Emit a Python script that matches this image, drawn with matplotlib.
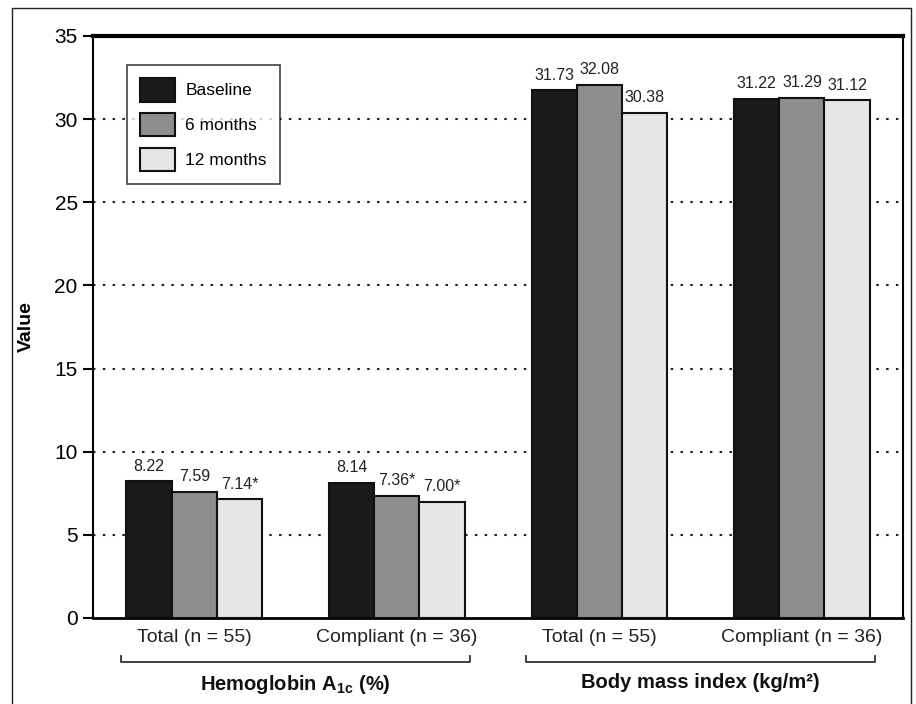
import matplotlib
matplotlib.use("Agg")
import matplotlib.pyplot as plt
from matplotlib.patches import Rectangle
from matplotlib.lines import Line2D
import numpy as np

# data
categories = ["Total (n = 55)", "Compliant (n = 36)", "Total (n = 55)", "Compliant (n = 36)"]
series_names = ["Baseline", "6 months", "12 months"]
baseline = [8.22, 8.14, 31.73, 31.22]
six_months = [7.59, 7.36, 32.08, 31.29]
twelve_months = [7.14, 7.00, 30.38, 31.12]
label_base = ["8.22", "8.14", "31.73", "31.22"]
label_six = ["7.59", "7.36*", "32.08", "31.29"]
label_twelve = ["7.14*", "7.00*", "30.38", "31.12"]
group_names = ["Hemoglobin A$_{\\mathbf{1c}}$ (%)", "Body mass index (kg/m\u00b2)"]

plt.rcParams["font.family"] = ["Liberation Sans", "DejaVu Sans"]
plt.rcParams["mathtext.fontset"] = "custom"
plt.rcParams["mathtext.bf"] = "Liberation Sans:bold"
plt.rcParams["mathtext.rm"] = "Liberation Sans"

colors = ["#1a1a1a", "#8e8e8e", "#e6e6e6"]

fig = plt.figure(figsize=(9.16, 7.04), dpi=100)
ax = fig.add_axes([0.1015, 0.1222, 0.8845, 0.8267])

x = np.arange(len(categories))
w = 0.223
all_vals = [baseline, six_months, twelve_months]
all_labels = [label_base, label_six, label_twelve]
for i, (vals, labs) in enumerate(zip(all_vals, all_labels)):
    pos = x + (i - 1) * w
    ax.bar(pos, vals, w, color=colors[i], edgecolor="#111111", linewidth=1.5,
           label=series_names[i], zorder=3)
    for p, v, t in zip(pos, vals, labs):
        ax.text(p, v + 0.45, t, ha="center", va="bottom", fontsize=11.5, color="#222222")

ax.set_xlim(-0.5, 3.5)
ax.set_ylim(0, 35)
ax.set_yticks(range(0, 36, 5))
ax.tick_params(axis="y", direction="out", length=7, width=1.5, labelsize=15, pad=4)
ax.tick_params(axis="x", length=0, labelsize=14, pad=8)
ax.set_xticks(x)
ax.set_xticklabels(categories, color="#222222")
for yv in range(5, 35, 5):
    ax.axhline(yv, color="#222222", linestyle=(0, (1.2, 3.5)), linewidth=1.5, zorder=1)

ax.spines["top"].set_linewidth(3)
ax.spines["bottom"].set_linewidth(2)
ax.spines["left"].set_linewidth(1.5)
ax.spines["right"].set_linewidth(1.5)

ax.set_ylabel("Value", fontsize=14, fontweight="bold")
ax.yaxis.set_label_coords(-0.072, 0.5)

leg = ax.legend(loc="upper left", bbox_to_anchor=(0.042, 0.95), borderaxespad=0,
                fontsize=12.5, frameon=True, fancybox=False, edgecolor="#111111",
                handlelength=2.0, handleheight=1.7, handletextpad=0.6,
                labelspacing=0.65, borderpad=0.75)
leg.get_frame().set_linewidth(1.2)

# group brackets below the axis
for gi, (a, b) in enumerate([(0, 1), (2, 3)]):
    x0 = a - 0.36
    x1 = b + 0.36
    trans = ax.get_xaxis_transform()
    yb = -0.075
    ax.add_line(Line2D([x0, x0, x1, x1], [yb + 0.009, yb, yb, yb + 0.009],
                       transform=trans, color="#333333", linewidth=1.3, clip_on=False))
    ax.text((a + b) / 2, -0.095, group_names[gi], transform=trans, ha="center", va="top",
            fontsize=14.5, fontweight="bold", color="#111111")

# outer frame
fig.add_artist(Rectangle((12 / 916, -0.01), 899 / 916, 1 - 8 / 704 + 0.01,
                         transform=fig.transFigure, fill=False,
                         edgecolor="#222222", linewidth=1.0))

fig.savefig("out.png", dpi=100)
